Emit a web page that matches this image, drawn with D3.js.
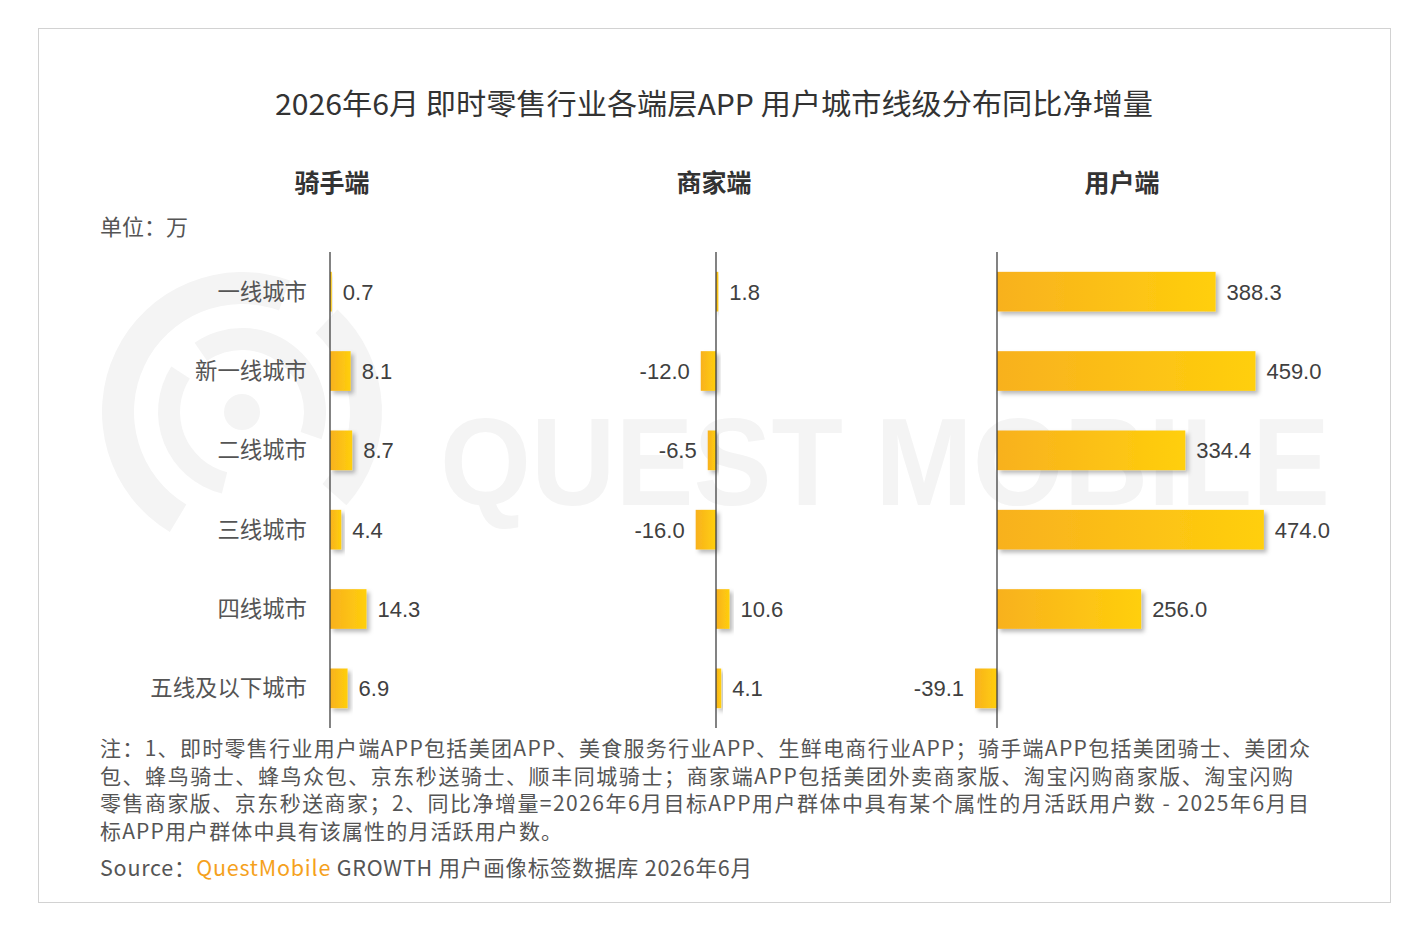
<!DOCTYPE html>
<html>
<head>
<meta charset="utf-8">
<script src="https://d3js.org/d3.v7.min.js"></script>
<style>
  body { margin: 0; background: #fff; }
  svg text { font-family: "Noto Sans CJK SC", "Noto Sans", sans-serif; }
</style>
</head>
<body>
<div id="chart"></div>
<script>
  // data
  const cities = ["一线城市", "新一线城市", "二线城市", "三线城市", "四线城市", "五线及以下城市"];
  const panelNames = ["骑手端", "商家端", "用户端"];
  const riderValues = [0.7, 8.1, 8.7, 4.4, 14.3, 6.9];
  const merchantValues = [1.8, -12.0, -6.5, -16.0, 10.6, 4.1];
  const userValues = [388.3, 459.0, 334.4, 474.0, 256.0, -39.1];

  const title = "2026年6月 即时零售行业各端层APP 用户城市线级分布同比净增量";
  const unitText = "单位：万";
  const noteLines = [
    "注：1、即时零售行业用户端APP包括美团APP、美食服务行业APP、生鲜电商行业APP；骑手端APP包括美团骑士、美团众",
    "包、蜂鸟骑士、蜂鸟众包、京东秒送骑士、顺丰同城骑士；商家端APP包括美团外卖商家版、淘宝闪购商家版、淘宝闪购",
    "零售商家版、京东秒送商家；2、同比净增量=2026年6月目标APP用户群体中具有某个属性的月活跃用户数 - 2025年6月目",
    "标APP用户群体中具有该属性的月活跃用户数。"
  ];

  const W = 1424, H = 928;
  const svg = d3.select("#chart").append("svg")
    .attr("width", W).attr("height", H);

  const defs = svg.append("defs");
  const grad = defs.append("linearGradient").attr("id", "barGrad")
    .attr("x1", "0%").attr("x2", "100%").attr("y1", "0%").attr("y2", "0%");
  grad.append("stop").attr("offset", "0%").attr("stop-color", "#f8b11f");
  grad.append("stop").attr("offset", "100%").attr("stop-color", "#ffcf0c");

  const shadow = defs.append("filter").attr("id", "shadow")
    .attr("x", "-20%").attr("y", "-20%").attr("width", "150%").attr("height", "160%");
  shadow.append("feDropShadow").attr("dx", 3).attr("dy", 3)
    .attr("stdDeviation", 2.2).attr("flood-color", "#000").attr("flood-opacity", 0.28);

  // frame
  svg.append("rect").attr("x", 38.5).attr("y", 28.5).attr("width", 1352).attr("height", 874)
    .attr("fill", "#fff").attr("stroke", "#d2d2d2");

  // watermark
  const wm = svg.append("g").attr("fill", "#f4f4f4");
  const arc = d3.arc();
  const cx = 242, cy = 412;
  [[108, 140, -2.6, 0.35], [108, 140, 0.75, 2.3], [62, 84, -2.9, -1.0], [62, 84, -0.6, 1.9]].forEach(a => {
    wm.append("path").attr("transform", `translate(${cx},${cy})`)
      .attr("d", arc({ innerRadius: a[0], outerRadius: a[1], startAngle: a[2], endAngle: a[3] }));
  });
  wm.append("circle").attr("cx", cx).attr("cy", cy).attr("r", 18);
  wm.append("text").attr("x", 440).attr("y", 505)
    .attr("textLength", 890).attr("lengthAdjust", "spacingAndGlyphs")
    .style("font-family", "'Liberation Sans', Arial, sans-serif")
    .style("font-size", "124px").style("font-weight", "bold")
    .text("QUEST MOBILE");

  // title
  svg.append("text").attr("x", 714).attr("y", 115).attr("text-anchor", "middle")
    .attr("textLength", 878).attr("lengthAdjust", "spacingAndGlyphs")
    .style("font-size", "29px").attr("fill", "#333").text(title);

  svg.append("text").attr("x", 100).attr("y", 235)
    .style("font-size", "22px").attr("fill", "#555").text(unitText);

  const y = d3.scaleBand().domain(cities).range([252, 728])
    .paddingInner(0.5).paddingOuter(0.25);

  const panels = [
    { name: panelNames[0], values: riderValues, x: d3.scaleLinear().domain([-20, 20]).range([279, 381]), cx: 332 },
    { name: panelNames[1], values: merchantValues, x: d3.scaleLinear().domain([-20, 20]).range([690.6, 741.4]), cx: 714 },
    { name: panelNames[2], values: userValues, x: d3.scaleLinear().domain([-100, 500]).range([940.7, 1278.5]), cx: 1122 }
  ];

  panels.forEach((p, pi) => {
    const g = svg.append("g");
    g.append("text").attr("x", p.cx).attr("y", 192).attr("text-anchor", "middle")
      .style("font-size", "25px").style("font-weight", "bold").attr("fill", "#333").text(p.name);

    const rows = cities.map((c, i) => ({ city: c, value: p.values[i] }));

    g.selectAll("rect.bar").data(rows).enter().append("rect")
      .attr("class", "bar")
      .attr("x", d => Math.min(p.x(0), p.x(d.value)))
      .attr("y", d => y(d.city))
      .attr("width", d => Math.abs(p.x(d.value) - p.x(0)))
      .attr("height", y.bandwidth())
      .attr("fill", "url(#barGrad)")
      .attr("filter", "url(#shadow)");

    // zero axis
    g.append("line").attr("x1", p.x(0)).attr("x2", p.x(0))
      .attr("y1", 252).attr("y2", 728).attr("stroke", "#404040").attr("stroke-width", 1.3);

    g.selectAll("text.val").data(rows).enter().append("text")
      .attr("class", "val")
      .attr("x", d => d.value >= 0 ? p.x(d.value) + 11 : p.x(d.value) - 11)
      .attr("y", d => y(d.city) + y.bandwidth() / 2)
      .attr("dy", "0.36em")
      .attr("text-anchor", d => d.value >= 0 ? "start" : "end")
      .style("font-family", "'Liberation Sans', Arial, sans-serif")
      .style("font-size", "22px").attr("fill", "#404040")
      .text(d => d.value.toFixed(1));

    if (pi === 0) {
      g.selectAll("text.cat").data(cities).enter().append("text")
        .attr("class", "cat")
        .attr("x", 307).attr("y", d => y(d) + y.bandwidth() / 2)
        .attr("dy", "0.36em").attr("text-anchor", "end")
        .style("font-size", "22.4px").attr("fill", "#555").text(d => d);
    }
  });

  // notes
  const noteWidths = [1210, 1193, 1209, 462];
  noteLines.forEach((t, i) => {
    svg.append("text").attr("x", 100).attr("y", 756 + i * 27.5)
      .attr("textLength", noteWidths[i]).attr("lengthAdjust", "spacing")
      .style("font-size", "21px").attr("fill", "#555").text(t);
  });

  const src = svg.append("text").attr("x", 100).attr("y", 876)
    .attr("textLength", 652).attr("lengthAdjust", "spacing")
    .style("font-size", "21.5px").attr("fill", "#555");
  src.append("tspan").text("Source：");
  src.append("tspan").attr("fill", "#f5a11c").text("QuestMobile");
  src.append("tspan").text(" GROWTH 用户画像标签数据库 2026年6月");
</script>
</body>
</html>
